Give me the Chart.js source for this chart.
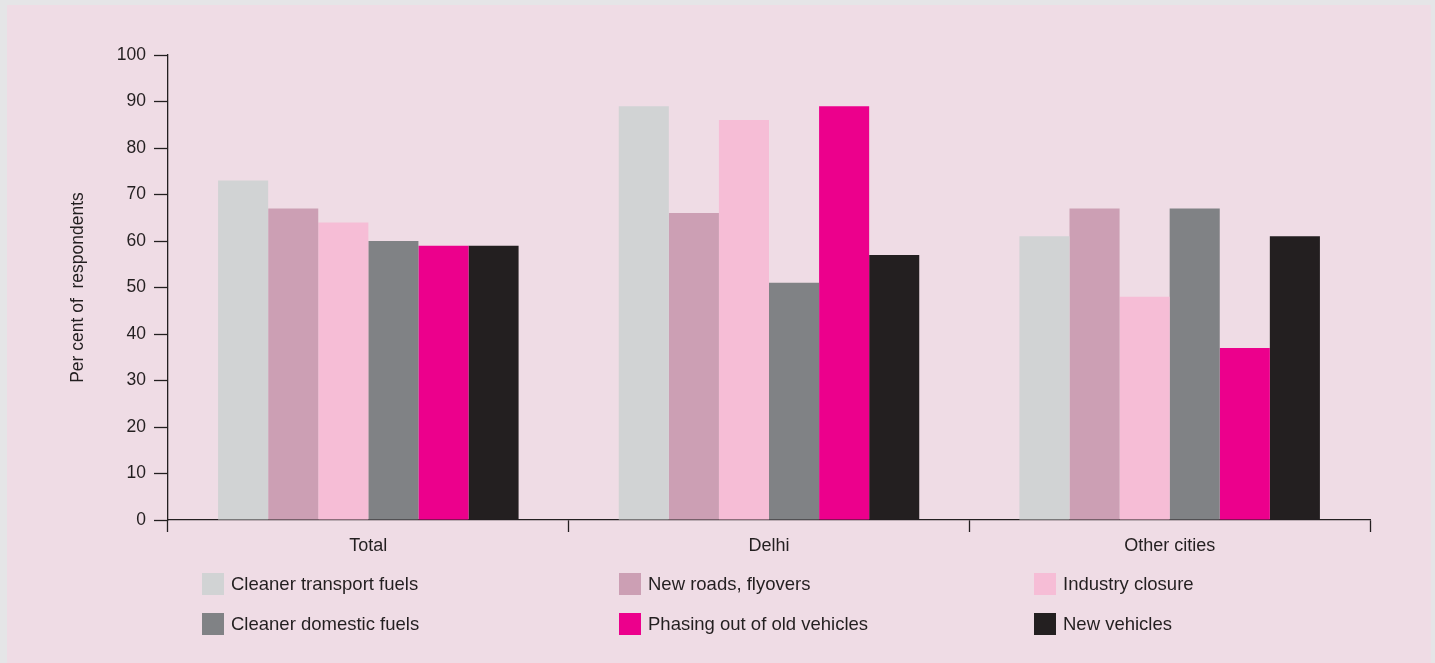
<!DOCTYPE html>
<html>
<head>
<meta charset="utf-8">
<script src="https://cdn.jsdelivr.net/npm/chart.js@4"></script>
<style>
  html, body { margin: 0; padding: 0; }
  body { width: 1435px; height: 663px; background: #e5e5e7; overflow: hidden; position: relative;
         font-family: "Liberation Sans", Arial, Helvetica, sans-serif; }
  #panel { position: absolute; left: 7px; top: 5px; width: 1424px; height: 658px; background: #efdce5; }
  #chart-wrap { position: absolute; left: 0; top: 0; width: 1424px; height: 560px; }
  #legend { position: absolute; left: 0; top: 0; width: 1424px; height: 658px; }
  .legend-item { position: absolute; display: flex; align-items: center; height: 22px;
                 font-size: 18.5px; color: #231f20; white-space: nowrap; }
  .legend-item span.box { width: 22px; height: 22px; margin-right: 7px; flex: none; }
</style>
</head>
<body>
<div id="panel">
  <div id="chart-wrap"><canvas id="survey-chart" width="1424" height="560"></canvas></div>
  <div id="legend"></div>
</div>
<script>
const categories = ['Total', 'Delhi', 'Other cities'];

const seriesNames = [
  'Cleaner transport fuels',
  'New roads, flyovers',
  'Industry closure',
  'Cleaner domestic fuels',
  'Phasing out of old vehicles',
  'New vehicles'
];

const cleanerTransport = [73, 89, 61];
const newRoads = [67, 66, 67];
const industryClosure = [64, 86, 48];
const cleanerDomestic = [60, 51, 67];
const phasingOut = [59, 89, 37];
const newVehicles = [59, 57, 61];

const seriesColors = ['#d1d3d4', '#cc9fb4', '#f6bdd6', '#808285', '#ec008c', '#231f20'];

const yTicks = [0, 10, 20, 30, 40, 50, 60, 70, 80, 90, 100];

const ink = '#231f20';
const fontFamily = '"Liberation Sans", Arial, Helvetica, sans-serif';

const allValues = [cleanerTransport, newRoads, industryClosure, cleanerDomestic, phasingOut, newVehicles];

const data = {
  labels: categories,
  datasets: seriesNames.map((name, i) => ({
    label: name,
    data: allValues[i],
    backgroundColor: seriesColors[i],
    borderWidth: 0,
    categoryPercentage: 0.75,
    barPercentage: 1.0
  }))
};

const config = {
  type: 'bar',
  data: data,
  options: {
    responsive: false,
    maintainAspectRatio: false,
    animation: false,
    layout: { padding: { top: 50, right: 61, left: 0, bottom: 0 } },
    plugins: {
      legend: { display: false },
      tooltip: { enabled: false }
    },
    scales: {
      x: {
        afterFit: (scale) => { scale.height = 45 },
        grid: {
          offset: true,
          drawOnChartArea: false,
          tickLength: 12,
          tickColor: ink,
          tickWidth: 1.3
        },
        border: { color: ink, width: 1.3 },
        ticks: {
          color: ink,
          padding: 3,
          font: { family: fontFamily, size: 18 }
        }
      },
      y: {
        min: 0,
        max: 100,
        afterFit: (scale) => { scale.width = 161 },
        afterBuildTicks: (scale) => { scale.ticks = yTicks.map(v => ({ value: v })) },
        grid: {
          drawOnChartArea: false,
          tickLength: 14,
          tickColor: ink,
          tickWidth: 1.3
        },
        border: { color: ink, width: 1.3 },
        ticks: {
          color: ink,
          padding: 8,
          font: { family: fontFamily, size: 17.5 }
        },
        title: {
          display: true,
          text: 'Per cent of  respondents',
          color: ink,
          padding: { top: 61, bottom: 0 },
          font: { family: fontFamily, size: 17.5 }
        }
      }
    }
  }
};

const myChart = new Chart(document.getElementById('survey-chart'), config);

// legend laid out in three columns, filled row by row
const legendCols = [195, 612, 1027];
const legendRows = [568, 608];
const legendBox = document.getElementById('legend');
myChart.data.datasets.forEach((ds, i) => {
  const item = document.createElement('div');
  item.className = 'legend-item';
  item.style.left = legendCols[i % 3] + 'px';
  item.style.top = legendRows[Math.floor(i / 3)] + 'px';
  const box = document.createElement('span');
  box.className = 'box';
  box.style.background = ds.backgroundColor;
  const txt = document.createElement('span');
  txt.textContent = ds.label;
  item.appendChild(box);
  item.appendChild(txt);
  legendBox.appendChild(item);
});
</script>
</body>
</html>
